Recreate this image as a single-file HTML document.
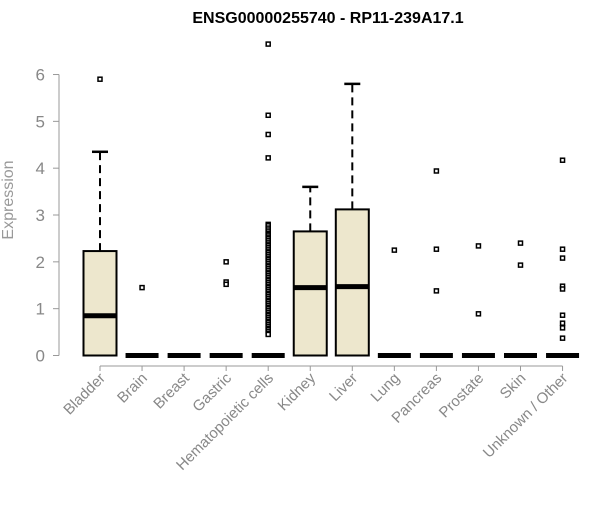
<!DOCTYPE html>
<html><head><meta charset="utf-8"><style>
body{margin:0;background:#fff;}
svg{font-family:"Liberation Sans",Arial,sans-serif;}
</style></head><body>
<svg id="chart" width="600" height="500" viewBox="0 0 600 500">
<text x="328" y="23" text-anchor="middle" font-size="16" font-weight="bold">ENSG00000255740 - RP11-239A17.1</text>
<text transform="translate(13,200) rotate(-90)" text-anchor="middle" font-size="16" fill="#999">Expression</text>
<g id="yaxis"></g>
<g id="xaxis"></g>
<g id="boxes"></g>
</svg>
<script>
const categories=["Bladder","Brain","Breast","Gastric","Hematopoietic cells","Kidney","Liver","Lung","Pancreas","Prostate","Skin","Unknown / Other"];
const q1=[0,0,0,0,0,0,0,0,0,0,0,0];
const medians=[0.85,0,0,0,0,1.45,1.47,0,0,0,0,0];
const q3=[2.23,0,0,0,0,2.65,3.12,0,0,0,0,0];
const whiskLo=[0,0,0,0,0,0,0,0,0,0,0,0];
const whiskHi=[4.35,0,0,0,0,3.6,5.8,0,0,0,0,0];
const outliers=[[5.9],[1.45],[],[2.0,1.57,1.52],
[6.65,5.13,4.72,4.22,2.8,2.77,2.72,2.68,2.64,2.6,2.57,2.53,2.5,2.46,2.42,2.38,2.35,2.31,2.27,2.23,2.2,2.16,2.12,2.08,2.05,2.01,1.97,1.93,1.9,1.86,1.82,1.78,1.75,1.71,1.67,1.63,1.6,1.56,1.52,1.48,1.45,1.41,1.37,1.33,1.3,1.26,1.22,1.18,1.15,1.11,1.07,1.03,1.0,0.96,0.92,0.88,0.85,0.81,0.77,0.73,0.7,0.66,0.62,0.58,0.55,0.51,0.47,0.45],
[],[],[2.25],[3.94,2.27,1.38],[2.34,0.89],[2.40,1.93],[4.17,2.27,2.08,1.48,1.42,0.86,0.69,0.59,0.37]];
const yTicks=[0,1,2,3,4,5,6];
const NS="http://www.w3.org/2000/svg";
const y=v=>355.5-v*46.83;
const x=i=>100+i*42.05;
function mk(p,t,a){const e=document.createElementNS(NS,t);for(const k in a)e.setAttribute(k,a[k]);p.appendChild(e);return e;}
const ya=document.getElementById('yaxis');
let l=mk(ya,'line',{x1:59,x2:59,y1:y(0),y2:y(6),stroke:'#999'});


yTicks.forEach(t=>{
 const tk=mk(ya,'line',{x1:53,x2:59,y1:y(t),y2:y(t),stroke:'#999'});
 
 
 const tx=mk(ya,'text',{x:45,y:y(t)+6,'text-anchor':'end','font-size':17,fill:'#888'});
 tx.textContent=t;
 
 
});
const xa=document.getElementById('xaxis');
l=mk(xa,'line',{x1:x(0),x2:x(11),y1:366,y2:366,stroke:'#999'});


const bg=document.getElementById('boxes');
categories.forEach((c,i)=>{
 const tk=mk(xa,'line',{x1:x(i),x2:x(i),y1:366,y2:371,stroke:'#999'});
 
 
 const tx=mk(xa,'text',{transform:`translate(${x(i)+6},${379}) rotate(-45)`,'text-anchor':'end','font-size':15,fill:'#888'});
 tx.textContent=c;
 
 
 const g=mk(bg,'g',{});
 
 
 const cx=x(i),hw=16.5;
 if(whiskHi[i]>q3[i]){
  mk(g,'line',{x1:cx,x2:cx,y1:y(q3[i]),y2:y(whiskHi[i]),stroke:'#000','stroke-width':2,'stroke-dasharray':'8,5'});
  mk(g,'line',{x1:cx-8,x2:cx+8,y1:y(whiskHi[i]),y2:y(whiskHi[i]),stroke:'#000','stroke-width':2.5});
 }
 if(q3[i]>q1[i]){
  mk(g,'rect',{x:cx-hw,y:y(q3[i]),width:hw*2,height:y(q1[i])-y(q3[i]),fill:'#ede7cd',stroke:'#000','stroke-width':2});
 }
 mk(g,'line',{x1:cx-hw,x2:cx+hw,y1:y(medians[i]),y2:y(medians[i]),stroke:'#000','stroke-width':5});
 outliers[i].forEach(v=>{
  const o=mk(g,'rect',{x:cx-2,y:y(v)-2,width:4,height:4,fill:'#fff',stroke:'#000','stroke-width':1.5});
  
  
 });
});
</script>
</body></html>
